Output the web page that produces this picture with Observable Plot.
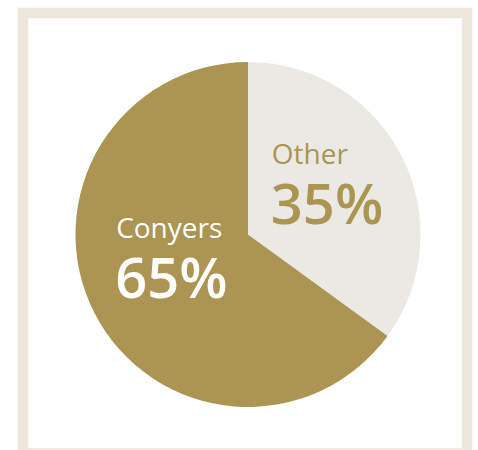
<!DOCTYPE html>
<html>
<head>
<meta charset="utf-8">
<script src="https://cdn.jsdelivr.net/npm/d3@7"></script>
<script src="https://cdn.jsdelivr.net/npm/@observablehq/plot@0.6"></script>
<style>
  html, body { margin: 0; padding: 0; background: #fff; }
  #chart svg { display: block; }
</style>
</head>
<body>
<div id="chart"></div>
<script>
// ---- data ----
const categories = ["Other", "Conyers"];
const shares = [35, 65];
const pctLabels = ["35%", "65%"];

// ---- style ----
const sliceColors = ["#EAE9E4", "#AC9552"];
const textColors = ["#AC9552", "#FFFFFF"];
const W = 478, H = 450;
const CX = 248, CY = 234.5, R = 172.5;

const data = categories.map((c, i) => ({category: c, share: shares[i], pct: pctLabels[i]}));
const arcs = d3.pie().sort(null).value(d => d.share)(data);

// label placement relative to each slice's centroid (layout only)
const arcGen = d3.arc().innerRadius(0).outerRadius(R);
const labelShift = {Other: [-53, -31], Conyers: [-55, -36]};
const labels = arcs.map(a => {
  const [mx, my] = arcGen.centroid(a);
  const [sx, sy] = labelShift[a.data.category];
  return {category: a.data.category, pct: a.data.pct, x: CX + mx + sx, y: CY + my + sy,
          color: textColors[categories.indexOf(a.data.category)]};
});

const pieMark = (index, scales) => {
  const g = d3.create("svg:g");
  const cx = scales.x(CX), cy = scales.y(CY);
  const r = Math.abs(scales.x(CX + R) - scales.x(CX));
  const arc = d3.arc().innerRadius(0).outerRadius(r);
  g.selectAll("path").data(arcs).join("path")
    .attr("transform", `translate(${cx},${cy})`)
    .attr("d", arc)
    .attr("fill", d => sliceColors[categories.indexOf(d.data.category)]);
  return g.node();
};

// one text element per slice: name line + large percentage line
const labelMark = (index, scales) => {
  const g = d3.create("svg:g").attr("font-family", "'Open Sans', sans-serif");
  for (const d of labels) {
    const x = scales.x(d.x), y = scales.y(d.y);
    const t = g.append("text").attr("fill", d.color).attr("text-anchor", "start");
    t.append("tspan").attr("x", x).attr("y", y)
      .attr("font-size", 28).attr("font-weight", 400).text(d.category);
    t.append("tspan").attr("x", x - 1).attr("y", y + 60)
      .attr("font-size", 56).attr("font-weight", 600).text(d.pct);
  }
  return g.node();
};

const chart = Plot.plot({
  width: W,
  height: H,
  margin: 0,
  style: {background: "#fff", fontFamily: "'Open Sans', sans-serif"},
  x: {domain: [0, W], range: [0, W], axis: null},
  y: {domain: [0, H], range: [0, H], axis: null},
  marks: [
    Plot.frame({stroke: "#EDE7DB", strokeWidth: 10.5,
      insetLeft: 22.5, insetRight: 11.5, insetTop: 12.5, insetBottom: -3}),
    pieMark,
    labelMark
  ]
});
document.getElementById("chart").append(chart);
</script>
</body>
</html>
